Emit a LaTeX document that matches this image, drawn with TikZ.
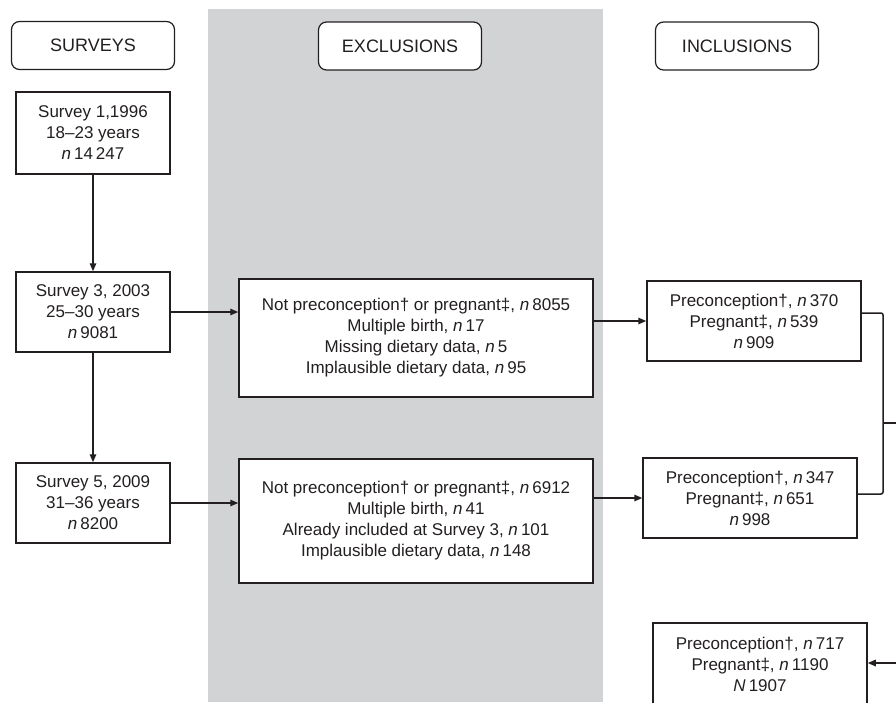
\documentclass[tikz,border=0pt]{standalone}
\usepackage{fontspec}
\setmainfont{Liberation Sans}
\usetikzlibrary{arrows.meta}
\definecolor{graybg}{RGB}{210,211,213}
\definecolor{inkc}{RGB}{35,31,32}
\newcommand{\nn}{\textit{n}\hspace{0.18em}}
\begin{document}
\begin{tikzpicture}[x=1pt,y=-1pt,
  every node/.style={font=\fontsize{17}{21}\selectfont, text=inkc},
  hdr/.style={draw=inkc, line width=1.2pt, rounded corners=8pt, fill=white, minimum width=163pt, minimum height=48pt, inner sep=0pt, font=\fontsize{18}{21}\selectfont},
  box/.style={draw=inkc, line width=1.5pt, fill=white, align=center, inner sep=0pt},
  conn/.style={draw=inkc, line width=1.5pt},
  arr/.style={conn, -{Triangle[length=8pt,width=6.5pt]}}]
\useasboundingbox (0,0) rectangle (896,702);
\clip (0,0) rectangle (896,702);
\fill[white] (0,0) rectangle (896,702);
\fill[graybg] (208,9) rectangle (603,702);

\node[hdr] (hs) at (93,45.5) {SURVEYS};
\node[hdr] (he) at (400,46) {EXCLUSIONS};
\node[hdr] (hi) at (737,46) {INCLUSIONS};

\node[box, minimum width=154pt, minimum height=82pt] (s1) at (93,133) {Survey 1,1996\\18--23 years\\\nn 14\,247};
\node[box, minimum width=154pt, minimum height=80pt] (s3) at (93,312) {Survey 3, 2003\\25--30 years\\\nn 9081};
\node[box, minimum width=154pt, minimum height=80pt] (s5) at (93,503) {Survey 5, 2009\\31--36 years\\\nn 8200};

\node[box, minimum width=354pt, minimum height=118pt] (e1) at (416,338) {Not preconception\dag{} or pregnant\ddag, \nn 8055\\Multiple birth, \nn 17\\Missing dietary data, \nn 5\\Implausible dietary data, \nn 95};
\node[box, minimum width=354pt, minimum height=124pt] (e2) at (416,521) {Not preconception\dag{} or pregnant\ddag, \nn 6912\\Multiple birth, \nn 41\\Already included at Survey 3, \nn 101\\Implausible dietary data, \nn 148};

\node[box, minimum width=214pt, minimum height=80pt] (i1) at (754,321) {Preconception\dag, \nn 370\\Pregnant\ddag, \nn 539\\\nn 909};
\node[box, minimum width=214pt, minimum height=80pt] (i2) at (750,498) {Preconception\dag, \nn 347\\Pregnant\ddag, \nn 651\\\nn 998};
\node[box, minimum width=214pt, minimum height=84pt, anchor=north] (fin) at (760,622) {Preconception\dag, \nn 717\\Pregnant\ddag, \nn 1190\\\textit{N}\hspace{0.18em}1907};

\coordinate (bt) at (883,313);
\coordinate (bb) at (883,494);
\coordinate (bm) at (883,423);
\coordinate (rout) at (900,423);
\coordinate (rin) at (900,663);

\draw[arr] (s1.south) -- (s3.north);
\draw[arr] (s3.south) -- (s5.north);
\draw[arr] (s3.east) -- (s3.east -| e1.west);
\draw[arr] (s5.east) -- (s5.east -| e2.west);
\draw[arr] (i1.west -| e1.east) -- (i1.west);
\draw[arr] (i2.west -| e2.east) -- (i2.west);
\draw[conn, rounded corners=2pt] (bt -| i1.east) -- (bt) -- (bb) -- (bb -| i2.east);
\draw[conn] (bm) -- (rout);
\draw[arr] (rin) -- (rin -| fin.east);
\end{tikzpicture}
\end{document}
